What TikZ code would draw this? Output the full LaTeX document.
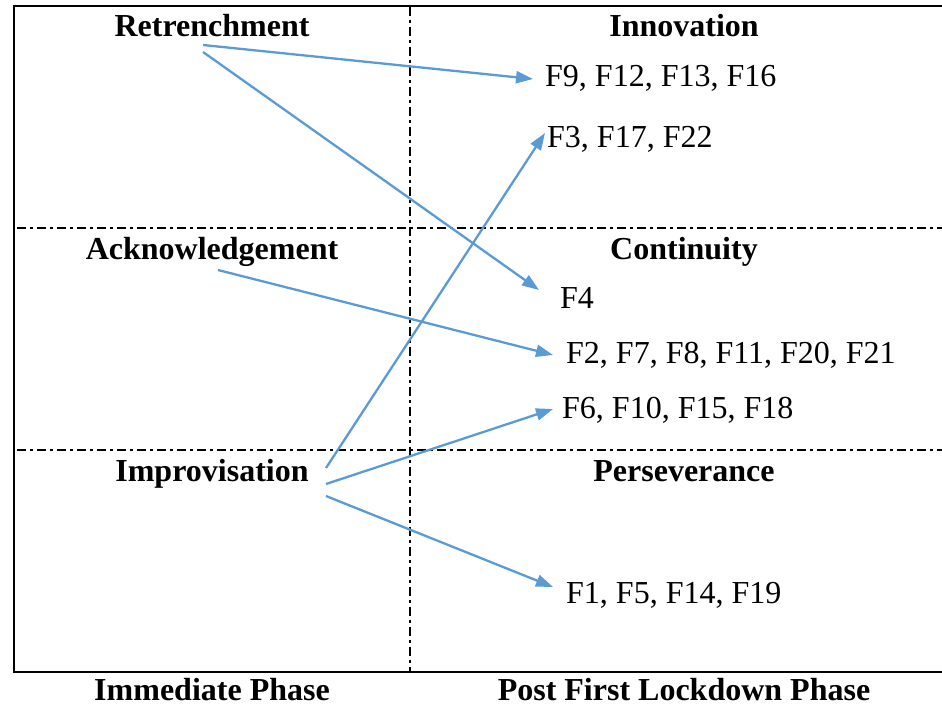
\documentclass[tikz,border=0pt]{standalone}
\usepackage{fontspec}
\setmainfont{Liberation Serif}
\usetikzlibrary{arrows.meta}
\definecolor{arrowblue}{HTML}{5B9BD5}
\tikzset{
  frame/.style={line width=1.8pt, black},
  divider/.style={line width=2.4pt, black, dash pattern=on 9pt off 4pt on 3pt off 4pt},
  head/.style={font=\fontsize{32}{37}\selectfont\bfseries, inner sep=0pt, anchor=base},
  item/.style={font=\fontsize{32}{37}\selectfont, inner sep=0pt, anchor=base west},
  link/.style={arrowblue, line width=2.3pt, -{Triangle[length=17pt,width=12pt]}}
}
\begin{document}
\begin{tikzpicture}[x=1pt,y=-1pt]
\useasboundingbox (0,0) rectangle (942,706);
% frame
\draw[frame] (942,6) -- (14,6) -- (14,672) -- (942,672);
% dividers
\draw[divider] (410,7) -- (410,671);
\draw[divider] (17,228) -- (942,228);
\draw[divider] (17,450) -- (942,450);
% headings
\node[head] (retr) at (212,37) {Retrenchment};
\node[head] (inno) at (684,37) {Innovation};
\node[head] (ackn) at (212,259) {Acknowledgement};
\node[head] (cont) at (684,259) {Continuity};
\node[head] (impr) at (212,481) {Improvisation};
\node[head] (pers) at (684,481) {Perseverance};
\node[head] (imm) at (212,700) {Immediate Phase};
\node[head] (post) at (684,700) {Post First Lockdown Phase};
% items
\node[item] (f9) at (545,87) {F9, F12, F13, F16};
\node[item] (f3) at (547,147) {F3, F17, F22};
\node[item] (f4) at (560,308) {F4};
\node[item] (f2) at (566,363) {F2, F7, F8, F11, F20, F21};
\node[item] (f6) at (562,418) {F6, F10, F15, F18};
\node[item] (f1) at (566,603) {F1, F5, F14, F19};
% arrow endpoints
\coordinate (r1) at (203,45);
\coordinate (r2) at (203,52);
\coordinate (a1) at (218,270);
\coordinate (i1) at (326,468);
\coordinate (i2) at (326,484);
\coordinate (i3) at (326,496);
\coordinate (t9) at (533,79);
\coordinate (t3) at (545,133);
\coordinate (t4) at (539,290);
\coordinate (t2) at (553,355);
\coordinate (t6) at (553,409);
\coordinate (t1) at (553,587);
% connectors
\draw[link] (r1) -- (t9);
\draw[link] (r2) -- (t4);
\draw[link] (a1) -- (t2);
\draw[link] (i1) -- (t3);
\draw[link] (i2) -- (t6);
\draw[link] (i3) -- (t1);
\end{tikzpicture}
\end{document}
